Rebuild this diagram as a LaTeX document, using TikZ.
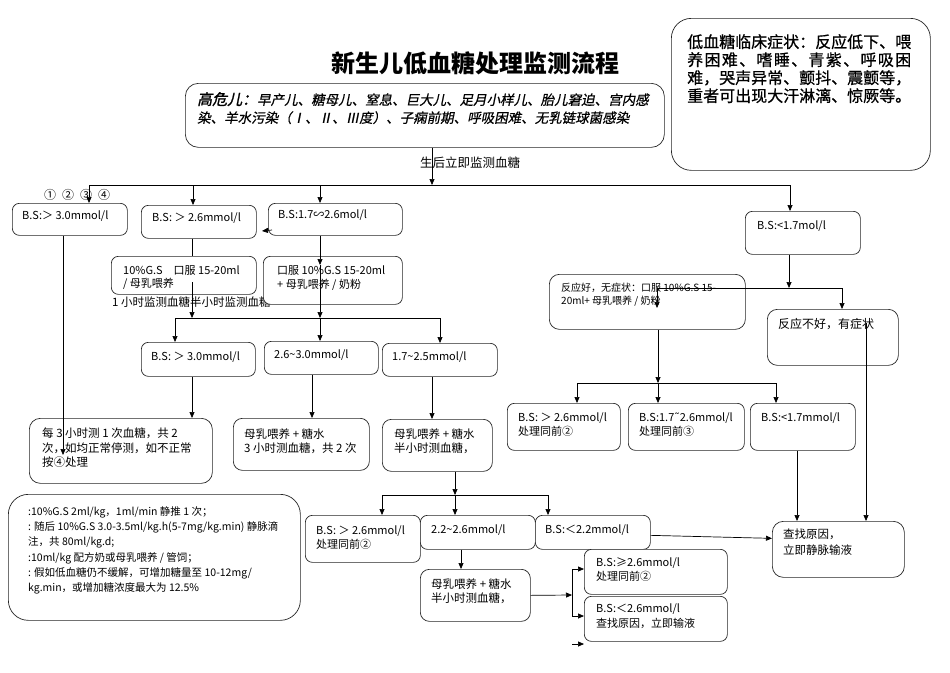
\documentclass[tikz,border=0pt]{standalone}
\usepackage{fontspec}
\setmainfont{Noto Sans CJK SC}
\newfontfamily\zhit{Noto Sans CJK SC}[FakeSlant=0.2,FakeBold=0.6]
\newfontfamily\zhitb{Noto Sans CJK SC}[FakeSlant=0.2,FakeBold=1.5]
\newfontfamily\zhb{Noto Sans CJK SC}[FakeBold=0.7]
\newfontfamily\dv{DejaVu Sans}
\usetikzlibrary{arrows.meta}
\tikzset{
  box/.style={draw=black!85, line width=0.7pt, rounded corners=7pt, fill=white, inner sep=0pt, anchor=north west},
  txt/.style={inner sep=0pt, anchor=west, align=left, font=\fontsize{11}{14}\selectfont},
  mtxt/.style={txt, anchor=north west},
  ln/.style={draw=black, line width=0.7pt},
  arr/.style={ln, -{Triangle[length=6pt,width=5pt]}},
}
\newcommand\mybox[6][]{%
  \pgfmathsetmacro\bw{#5-#3}\pgfmathsetmacro\bh{#6-#4}%
  \node[box, minimum width=\bw pt, minimum height=\bh pt, #1] (#2) at (#3,#4) {};}
\begin{document}
\begin{tikzpicture}[x=1pt,y=-1pt]
\useasboundingbox (0,0) rectangle (950,672);
\fill[white] (0,0) rectangle (950,672);

% title
\node[font=\fontsize{24}{28}\selectfont\bfseries] (title) at (475,63) {新生儿低血糖处理监测流程};

% high risk box
\mybox[rounded corners=13pt]{hr}{185}{83}{664}{147}
\node[mtxt, font=\zhit\fontsize{13.5}{18}\selectfont] (hrt) at (197,92)
  {{\zhitb\fontsize{15}{18}\selectfont 高危儿：}早产儿、糖母儿、窒息、巨大儿、足月小样儿、胎儿窘迫、宫内感\\
   染、羊水污染（Ⅰ、Ⅱ、Ⅲ度）、子痫前期、呼吸困难、无乳链球菌感染};

% symptoms box
\mybox[rounded corners=20pt]{sym}{671}{18}{930}{170}
\node[mtxt, font=\zhb\fontsize{16}{18}\selectfont] (symt) at (687,34)
  {低血糖临床症状：反应低下、喂\\
   \makebox[224pt][s]{养\hfill 困\hfill 难\hfill 、\hfill 嗜\hfill 睡\hfill 、\hfill 青\hfill 紫\hfill 、\hfill 呼\hfill 吸\hfill 困}\\
   难，哭声异常、颤抖、震颤等，\\
   重者可出现大汗淋漓、惊厥等。};

\node[txt, font=\fontsize{12.5}{14}\selectfont] (lab1) at (420,163) {生后立即监测血糖};

% text partly under box E
\node[txt, font=\fontsize{11.5}{14}\selectfont] (t1) at (112,302) {1 小时监测血糖半小时监测血糖};

% boxes
\mybox{A}{12}{203}{127}{235}
\mybox{B}{141}{205}{256}{238}
\mybox{C}{268}{203}{402}{235}
\mybox{D}{111}{256}{256}{294}
\mybox{E}{263}{256}{402}{304}
\mybox{F}{141}{342}{255}{376}
\mybox{G}{264}{341}{378}{374}
\mybox{H}{382}{343}{497}{376}
\mybox[rounded corners=11pt]{I}{29}{418}{212}{483}
\mybox[rounded corners=9pt]{J}{233}{418}{369}{470}
\mybox[rounded corners=9pt]{K}{382}{419}{492}{471}
\mybox{L}{305}{515}{420}{562}
\mybox{M}{420}{515}{535}{549}
\mybox{N}{535}{515}{650}{549}
\mybox[rounded corners=9pt]{O}{420}{569}{530}{621}
\mybox{P}{584}{549}{727}{594}
\mybox{Q}{584}{596}{727}{641}
\mybox{R}{745}{211}{860}{254}
\mybox[rounded corners=10pt]{S}{549}{274}{745}{329}
\mybox[rounded corners=10pt]{T}{767}{309}{898}{365}
\mybox{U}{507}{403}{620}{450}
\mybox{V}{628}{403}{744}{450}
\mybox{W}{750}{403}{855}{450}
\mybox[rounded corners=11pt]{X}{772}{521}{904}{577}
\mybox[rounded corners=20pt]{Y}{8}{494}{300}{620}

% box texts
\node[txt, font=\fontsize{12}{14}\selectfont] (circ) at (44,195) {①\hspace{6pt}②\hspace{6pt}③\hspace{6pt}④};
\node[txt] (At) at (22,216) {B.S:＞ 3.0mmol/l};
\node[txt] (Bt) at (152,218) {B.S: ＞ 2.6mmol/l};
\node[txt] (Ct) at (278,215) {B.S:1.7∽2.6mol/l};
\node[mtxt] (Dt) at (123,265.5) {10\%G.S\quad 口服 15-20ml\\[-1pt]/ 母乳喂养};
\node[mtxt] (Et) at (277,265.5) {口服 10\%G.S 15-20ml\\+ 母乳喂养 / 奶粉};
\node[txt] (Ft) at (151,357) {B.S: ＞ 3.0mmol/l};
\node[txt] (Gt) at (274,355) {2.6\textasciitilde 3.0mmol/l};
\node[txt] (Ht) at (392,357) {1.7\textasciitilde 2.5mmol/l};
\node[mtxt, font=\fontsize{11.5}{14.5}\selectfont] (It) at (42,428)
  {每 3 小时测 1 次血糖，共 2\\次，如均正常停测，如不正常\\按④处理};
\node[mtxt, font=\fontsize{11.5}{14}\selectfont] (Jt) at (244,429) {母乳喂养 + 糖水\\3 小时测血糖，共 2 次};
\node[mtxt, font=\fontsize{11.5}{14}\selectfont] (Kt) at (394,429) {母乳喂养 + 糖水\\半小时测血糖，};
\node[mtxt] (Lt) at (316,525.5) {B.S: ＞ 2.6mmol/l\\处理同前②};
\node[txt] (Mt) at (431,530) {2.2\textasciitilde 2.6mmol/l};
\node[txt] (Nt) at (545,530) {B.S:＜2.2mmol/l};
\node[mtxt, font=\fontsize{11.5}{14}\selectfont] (Ot) at (431,579) {母乳喂养 + 糖水\\半小时测血糖，};
\node[mtxt] (Pt) at (596,557.5) {B.S:≥2.6mmol/l\\处理同前②};
\node[mtxt, font=\fontsize{11}{15}\selectfont] (Qt) at (596,603.5) {B.S:＜2.6mmol/l\\查找原因，立即输液};
\node[mtxt, font=\fontsize{11.5}{16}\selectfont] (Xt) at (783,529) {查找原因，\\立即静脉输液};
\node[mtxt] (Ut) at (518,412.5) {B.S: ＞ 2.6mmol/l\\处理同前②};
\node[mtxt] (Vt) at (639,412.5) {B.S:1.7{\dv ˜}2.6mmol/l\\处理同前③};
\node[txt] (Wt) at (761,418) {B.S:<1.7mmol/l};
\node[txt] (Rt) at (757,226) {B.S:<1.7mol/l};
\node[mtxt, font=\fontsize{10}{13}\selectfont] (St) at (561,283) {反应好，无症状：口服 10\%G.S 15-\\20ml+ 母乳喂养 / 奶粉};
\node[txt, font=\fontsize{12}{14}\selectfont] (Tt) at (778,324) {反应不好，有症状};
\node[mtxt, font=\fontsize{10.5}{15.2}\selectfont] (Yt) at (28,506.5)
  {:10\%G.S 2ml/kg，1ml/min 静推 1 次；\\
   : 随后 10\%G.S 3.0-3.5ml/kg.h(5-7mg/kg.min) 静脉滴\\
   注，共 80ml/kg.d;\\
   :10ml/kg 配方奶或母乳喂养 / 管饲；\\
   : 假如低血糖仍不缓解，可增加糖量至 10-12mg/\\
   kg.min，或增加糖浓度最大为 12.5\%};

% connectors: top
\coordinate (top) at (432,185);
\draw[arr] (top |- hr.south) -- (top);
\coordinate (hL) at (89,185);
\coordinate (hR) at (790,185);
\draw[ln] (hL) -- (hR);
\draw[arr] (hL) -- (hL |- A.north);
\coordinate (dB) at (193,185);
\draw[arr] (dB) -- (dB |- B.north);
\coordinate (dC) at (320,185);
\draw[arr] (dC) -- (dC |- C.north);
\draw[arr] (hR) -- (hR |- R.north);
\coordinate (st1) at (272,230);
\coordinate (st2) at (262,231);
\draw[arr] (st1) -- (st2);

% second level
\coordinate (xB) at (192,282);
\draw[ln] (xB |- B.south) -- (xB |- D.north);
\coordinate (h2L) at (175,318);
\coordinate (h2R) at (440,318);
\draw[ln] (h2L) -- (h2R);
\draw[arr] (xB) -- (xB |- h2L);
\coordinate (xC) at (320,265);
\draw[arr] (xC |- C.south) -- (xC);
\draw[arr] (xC) -- (xC |- h2L);
\draw[arr] (h2L) -- (h2L |- F.north);
\coordinate (dG) at (320,318);
\draw[arr] (dG) -- (dG |- G.north);
\draw[arr] (h2R) -- (h2R |- H.north);

% third level
\draw[arr] (xB |- F.south) -- (xB |- I.north);
\coordinate (xA) at (63,455);
\draw[arr] (xA |- A.south) -- (xA);
\coordinate (xG) at (312,400);
\draw[arr] (xG |- G.south) -- (xG |- J.north);
\coordinate (xH) at (432,400);
\draw[arr] (xH |- H.south) -- (xH |- K.north);

% fourth level
\coordinate (h3M) at (455,495);
\coordinate (h3L) at (382,495);
\coordinate (h3R) at (548,495);
\draw[arr] (h3M |- K.south) -- (h3M);
\draw[ln] (h3L) -- (h3R);
\draw[arr] (h3L) -- (h3L |- L.north);
\draw[arr] (h3M) -- (h3M |- M.north);
\draw[arr] (h3R) -- (h3R |- N.north);
\coordinate (xM) at (461,560);
\draw[arr] (xM |- M.south) -- (xM |- O.north);
\draw[arr] ([yshift=-3pt]N.east) -- ([yshift=11pt]X.west);
\coordinate (oj) at (572,595);
\draw[arr] (O.east) -- (oj);
\coordinate (vt) at (572,569);
\coordinate (vb) at (572,616);
\draw[ln] (vt) -- (vb);
\draw[arr] (vt) -- (vt -| P.west);
\draw[arr] (vb) -- (vb -| Q.west);
\coordinate (s1) at (572,644);
\coordinate (s2) at (584,644);
\draw[arr] (s1) -- (s2);

% right branch
\coordinate (rj) at (789,288);
\draw[arr] (rj |- R.south) -- (rj);
\coordinate (rL) at (657,288);
\coordinate (rR) at (842,288);
\draw[ln] (rL) -- (rR);
\coordinate (sIn) at (657,308);
\draw[arr] (rL) -- (sIn);
\draw[arr] (rR) -- (rR |- T.north);
\coordinate (sj) at (658,383);
\draw[arr] (sj |- S.south) -- (sj);
\coordinate (sL) at (577,383);
\coordinate (sR) at (776,383);
\draw[ln] (sL) -- (sR);
\draw[arr] (sL) -- (sL |- U.north);
\draw[arr] (sj) -- (sj |- V.north);
\draw[arr] (sR) -- (sR |- W.north);
\coordinate (tIn) at (866,323);
\draw[arr] (tIn) -- (tIn |- X.north);
\coordinate (xW) at (797,480);
\draw[arr] (xW |- W.south) -- (xW |- X.north);
\end{tikzpicture}
\end{document}
